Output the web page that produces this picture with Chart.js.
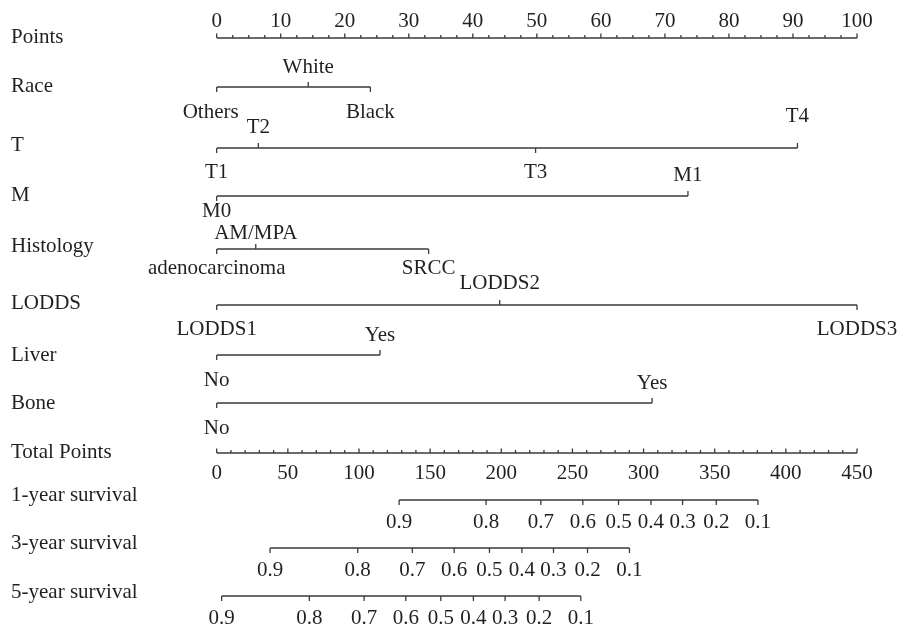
<!DOCTYPE html>
<html>
<head>
<meta charset="utf-8">
<script src="https://cdn.jsdelivr.net/npm/chart.js@4/dist/chart.umd.min.js"></script>
<style>
  html, body { margin: 0; padding: 0; background: #ffffff; }
  #wrap { width: 897px; height: 630px; position: relative; }
</style>
</head>
<body>
<div id="wrap"><canvas id="nomo"></canvas></div>
<script>
// ---- Nomogram values ----------------------------------------------------
// Points scale (0-100) and total points scale (0-450)
const pointsTicks = [0, 10, 20, 30, 40, 50, 60, 70, 80, 90, 100];
const totalTicks = [0, 50, 100, 150, 200, 250, 300, 350, 400, 450];

// Predictor levels and the points each level contributes
const raceLabels = ['Others', 'White', 'Black'];
const racePoints = [0, 14.3, 24.0];

const tLabels = ['T1', 'T2', 'T3', 'T4'];
const tPoints = [0, 6.5, 49.8, 90.7];

const mLabels = ['M0', 'M1'];
const mPoints = [0, 73.6];

const histologyLabels = ['adenocarcinoma', 'AM/MPA', 'SRCC'];
const histologyPoints = [0, 6.1, 33.1];

const loddsLabels = ['LODDS1', 'LODDS2', 'LODDS3'];
const loddsPoints = [0, 44.2, 100];

const liverLabels = ['No', 'Yes'];
const liverPoints = [0, 25.5];

const boneLabels = ['No', 'Yes'];
const bonePoints = [0, 68.0];

// Survival probabilities and the total points where each one falls
const survivalLabels = ['0.9', '0.8', '0.7', '0.6', '0.5', '0.4', '0.3', '0.2', '0.1'];
const survival1yTotal = [128.2, 189.3, 227.8, 257.3, 282.4, 305.2, 327.4, 351.1, 380.4];
const survival3yTotal = [37.5, 99.1, 137.5, 166.9, 191.7, 214.5, 236.7, 260.6, 290.1];
const survival5yTotal = [3.5, 65.1, 103.6, 132.9, 157.5, 180.4, 202.7, 226.6, 255.9];

// ---- Layout ---------------------------------------------------------------
const FONT = '21px "Liberation Serif", "Times New Roman", serif';
const TEXT_COLOR = '#231f20';
const LINE_COLOR = '#3a3a3a';

// vertical placement of each row (pixels from top; y scale runs 0..630)
const ROW = {
  points: 38, race: 87, t: 148, m: 196, histology: 249, lodds: 305,
  liver: 355, bone: 403, total: 453, s1: 500, s3: 548, s5: 596
};
const rowTitles = [
  ['Points', 37], ['Race', 86], ['T', 145], ['M', 195], ['Histology', 246],
  ['LODDS', 303], ['Liver', 355], ['Bone', 403], ['Total Points', 452],
  ['1-year survival', 495], ['3-year survival', 543], ['5-year survival', 592]
];

// label offsets relative to the row line (negative = above)
const predictors = [
  { y: ROW.race, labels: raceLabels, pts: racePoints, dy: [25, -20, 25], dx: [-6, 0, 0] },
  { y: ROW.t, labels: tLabels, pts: tPoints, dy: [24, -21, 24, -32] },
  { y: ROW.m, labels: mLabels, pts: mPoints, dy: [15, -21] },
  { y: ROW.histology, labels: histologyLabels, pts: histologyPoints, dy: [19, -16, 19] },
  { y: ROW.lodds, labels: loddsLabels, pts: loddsPoints, dy: [24, -22, 24] },
  { y: ROW.liver, labels: liverLabels, pts: liverPoints, dy: [25, -20] },
  { y: ROW.bone, labels: boneLabels, pts: bonePoints, dy: [25, -20] }
];
const survivalRows = [
  { y: ROW.s1, total: survival1yTotal },
  { y: ROW.s3, total: survival3yTotal },
  { y: ROW.s5, total: survival5yTotal }
];

// ---- Datasets: one horizontal segment per row ------------------------------
function segment(values, y, axis) {
  return {
    data: [{ x: Math.min(...values), y: y }, { x: Math.max(...values), y: y }],
    xAxisID: axis, yAxisID: 'y',
    borderColor: LINE_COLOR, borderWidth: 1.6,
    pointRadius: 0, showLine: true, fill: false
  };
}
const datasets = [segment(pointsTicks, ROW.points, 'x')];
predictors.forEach(p => datasets.push(segment(p.pts, p.y, 'x')));
datasets.push(segment(totalTicks, ROW.total, 'xt'));
survivalRows.forEach(s => datasets.push(segment(s.total, s.y, 'xt')));

// ---- Ticks and text drawn on the library scales ----------------------------
function tick(ctx, px, py, len) {
  ctx.beginPath();
  ctx.moveTo(px, py);
  ctx.lineTo(px, py + len);
  ctx.stroke();
}

const nomogramPlugin = {
  id: 'nomogram',
  afterDatasetsDraw(chart) {
    const ctx = chart.ctx;
    const xs = chart.scales.x, xt = chart.scales.xt, ys = chart.scales.y;
    ctx.save();
    ctx.font = FONT;
    ctx.fillStyle = TEXT_COLOR;
    ctx.strokeStyle = LINE_COLOR;
    ctx.lineWidth = 1.3;
    ctx.textBaseline = 'middle';

    // row titles
    ctx.textAlign = 'left';
    rowTitles.forEach(([t, ty]) => ctx.fillText(t, 11, ys.getPixelForValue(ty)));

    ctx.textAlign = 'center';

    // points axis: minor ticks every 2.5, labels every 10
    const pY = ys.getPixelForValue(ROW.points);
    for (let v = 0; v <= 100; v += 2.5) {
      tick(ctx, xs.getPixelForValue(v), pY, v % 10 === 0 ? -4.5 : -3);
    }
    pointsTicks.forEach(v => ctx.fillText(String(v), xs.getPixelForValue(v), pY - 17));

    // predictor rows
    predictors.forEach(p => {
      const py = ys.getPixelForValue(p.y);
      p.pts.forEach((v, i) => {
        const px = xs.getPixelForValue(v);
        tick(ctx, px, py, p.dy[i] > 0 ? 5 : -5);
        const dx = p.dx ? p.dx[i] : 0;
        ctx.fillText(p.labels[i], px + dx, py + p.dy[i]);
      });
    });

    // total points axis: minor ticks every 10, labels every 50
    const tY = ys.getPixelForValue(ROW.total);
    for (let v = 0; v <= 450; v += 10) {
      tick(ctx, xt.getPixelForValue(v), tY, v % 50 === 0 ? -4.5 : -3);
    }
    totalTicks.forEach(v => ctx.fillText(String(v), xt.getPixelForValue(v), tY + 20));

    // survival rows
    survivalRows.forEach(s => {
      const sy = ys.getPixelForValue(s.y);
      s.total.forEach((v, i) => {
        const px = xt.getPixelForValue(v);
        tick(ctx, px, sy, 5);
        ctx.fillText(survivalLabels[i], px, sy + 22);
      });
    });

    ctx.restore();
  }
};

new Chart(document.getElementById('nomo'), {
  type: 'scatter',
  data: { datasets },
  options: {
    responsive: true,
    maintainAspectRatio: false,
    animation: false,
    layout: { padding: { left: 216.7, right: 40, top: 0, bottom: 0 } },
    plugins: { legend: { display: false }, tooltip: { enabled: false } },
    scales: {
      x: { type: 'linear', min: 0, max: 100, display: false },
      xt: { type: 'linear', min: 0, max: 450, display: false },
      y: { type: 'linear', min: 0, max: 630, reverse: true, display: false }
    }
  },
  plugins: [nomogramPlugin]
});
</script>
</body>
</html>
